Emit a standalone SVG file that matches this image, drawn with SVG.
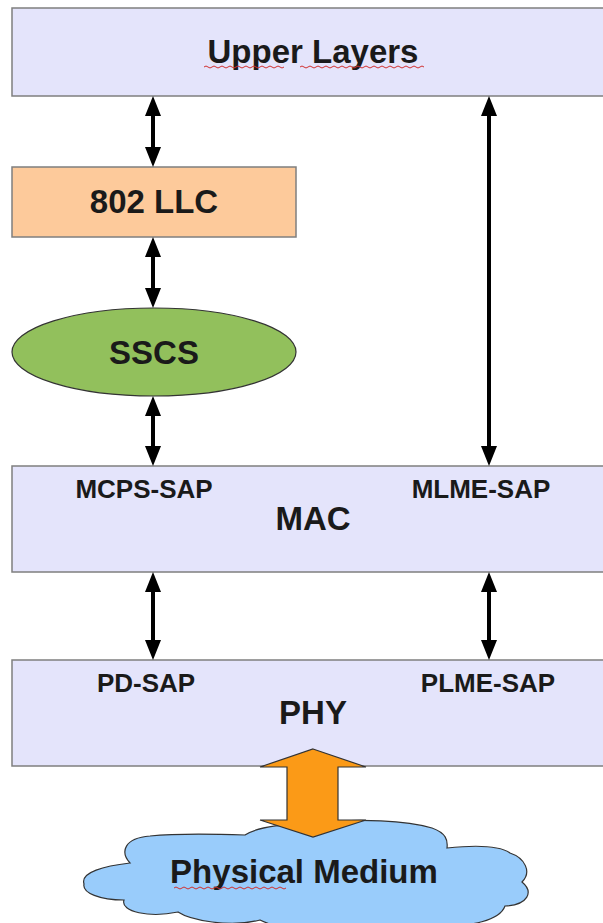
<svg xmlns="http://www.w3.org/2000/svg" width="603" height="923" viewBox="0 0 603 923">
<style>
.layer{fill:#e4e4fb;stroke:#7f7f7f;stroke-width:1.5}
.main{font-family:"Liberation Sans",Arial,sans-serif;font-weight:bold;font-size:33px;fill:#1a1a1a;text-anchor:middle}
.sap{font-family:"Liberation Sans",Arial,sans-serif;font-weight:bold;font-size:26px;fill:#1a1a1a;text-anchor:middle}
.conn{stroke:#000;stroke-width:4;fill:none;marker-start:url(#ah);marker-end:url(#ah)}
.squig{fill:none;stroke:#d03030;stroke-width:1}
</style>
<defs>
<marker id="ah" viewBox="0 0 20 16" refX="10" refY="8" markerWidth="20" markerHeight="16" markerUnits="userSpaceOnUse" orient="auto-start-reverse">
<path d="M0,0 L20,8 L0,16 Z" fill="#000"/>
</marker>
</defs>
<rect width="603" height="923" fill="#fff"/>

<g id="upper">
<rect class="layer" x="12" y="8" width="620" height="88"/>
<text class="main" x="313" y="63">Upper Layers</text>
<path class="squig" d="M204,67 q2,-2 4,0 t4,0 t4,0 t4,0 t4,0 t4,0 t4,0 t4,0 t4,0 t4,0 t4,0 t4,0 t4,0 t4,0 t4,0 t4,0 t4,0 t4,0 t4,0 t4,0 M300,67 q2,-2 4,0 t4,0 t4,0 t4,0 t4,0 t4,0 t4,0 t4,0 t4,0 t4,0 t4,0 t4,0 t4,0 t4,0 t4,0 t4,0 t4,0 t4,0 t4,0 t4,0 t4,0 t4,0 t4,0 t4,0 t4,0 t4,0 t4,0 t4,0 t4,0 t4,0 t4,0"/>
</g>

<g id="llc">
<rect x="12" y="167" width="284" height="70" fill="#fdca9b" stroke="#7f7f7f" stroke-width="1.5"/>
<text class="main" x="154" y="213">802 LLC</text>
</g>

<g id="sscs">
<ellipse cx="154" cy="352" rx="142" ry="44" fill="#92c05c" stroke="#333" stroke-width="1.2"/>
<text class="main" x="154" y="364">SSCS</text>
</g>

<g id="mac">
<rect class="layer" x="12" y="466" width="620" height="106"/>
<text class="sap" x="144" y="498">MCPS-SAP</text>
<text class="sap" x="481" y="498">MLME-SAP</text>
<text class="main" x="313" y="530">MAC</text>
</g>

<g id="phy">
<rect class="layer" x="12" y="660" width="620" height="106"/>
<text class="sap" x="146" y="692">PD-SAP</text>
<text class="sap" x="488" y="692">PLME-SAP</text>
<text class="main" x="313" y="724">PHY</text>
</g>

<g id="medium">
<path d="M84,884 C80,872 105,866 130,863 C120,852 124,838 150,836 C180,833 215,834 245,835 C258,826 290,824 320,822 C360,819 405,820 432,828 C446,833 448,840 447,848 C475,845 500,846 510,853 C525,858 532,872 522,882 C534,892 528,905 505,906 C500,920 470,928 440,924 C420,932 380,932 350,926 C320,934 280,930 260,920 C230,928 190,920 178,912 C150,918 120,912 124,900 C100,900 82,893 84,884 Z" fill="#99ccfb" stroke="#333" stroke-width="1.2"/>
<text class="main" x="304" y="883">Physical Medium</text>
<path class="squig" d="M174,888 q2,-2 4,0 t4,0 t4,0 t4,0 t4,0 t4,0 t4,0 t4,0 t4,0 t4,0 t4,0 t4,0 t4,0 t4,0 t4,0 t4,0 t4,0 t4,0 t4,0 t4,0 t4,0 t4,0 t4,0 t4,0 t4,0 t4,0 t4,0 t4,0"/>
</g>

<g id="connectors">
<line class="conn" x1="153" y1="106" x2="153" y2="157"/>
<line class="conn" x1="153" y1="247" x2="153" y2="298"/>
<line class="conn" x1="153" y1="406" x2="153" y2="456"/>
<line class="conn" x1="489" y1="106" x2="489" y2="456"/>
<line class="conn" x1="153" y1="582" x2="153" y2="650"/>
<line class="conn" x1="489" y1="582" x2="489" y2="650"/>
<path d="M313,749 L366,767 L338,767 L338,820 L366,820 L313,837 L260,820 L287,820 L287,767 L260,767 Z" fill="#fb9a17" stroke="#333" stroke-width="1.2" stroke-linejoin="miter"/>
</g>
</svg>
